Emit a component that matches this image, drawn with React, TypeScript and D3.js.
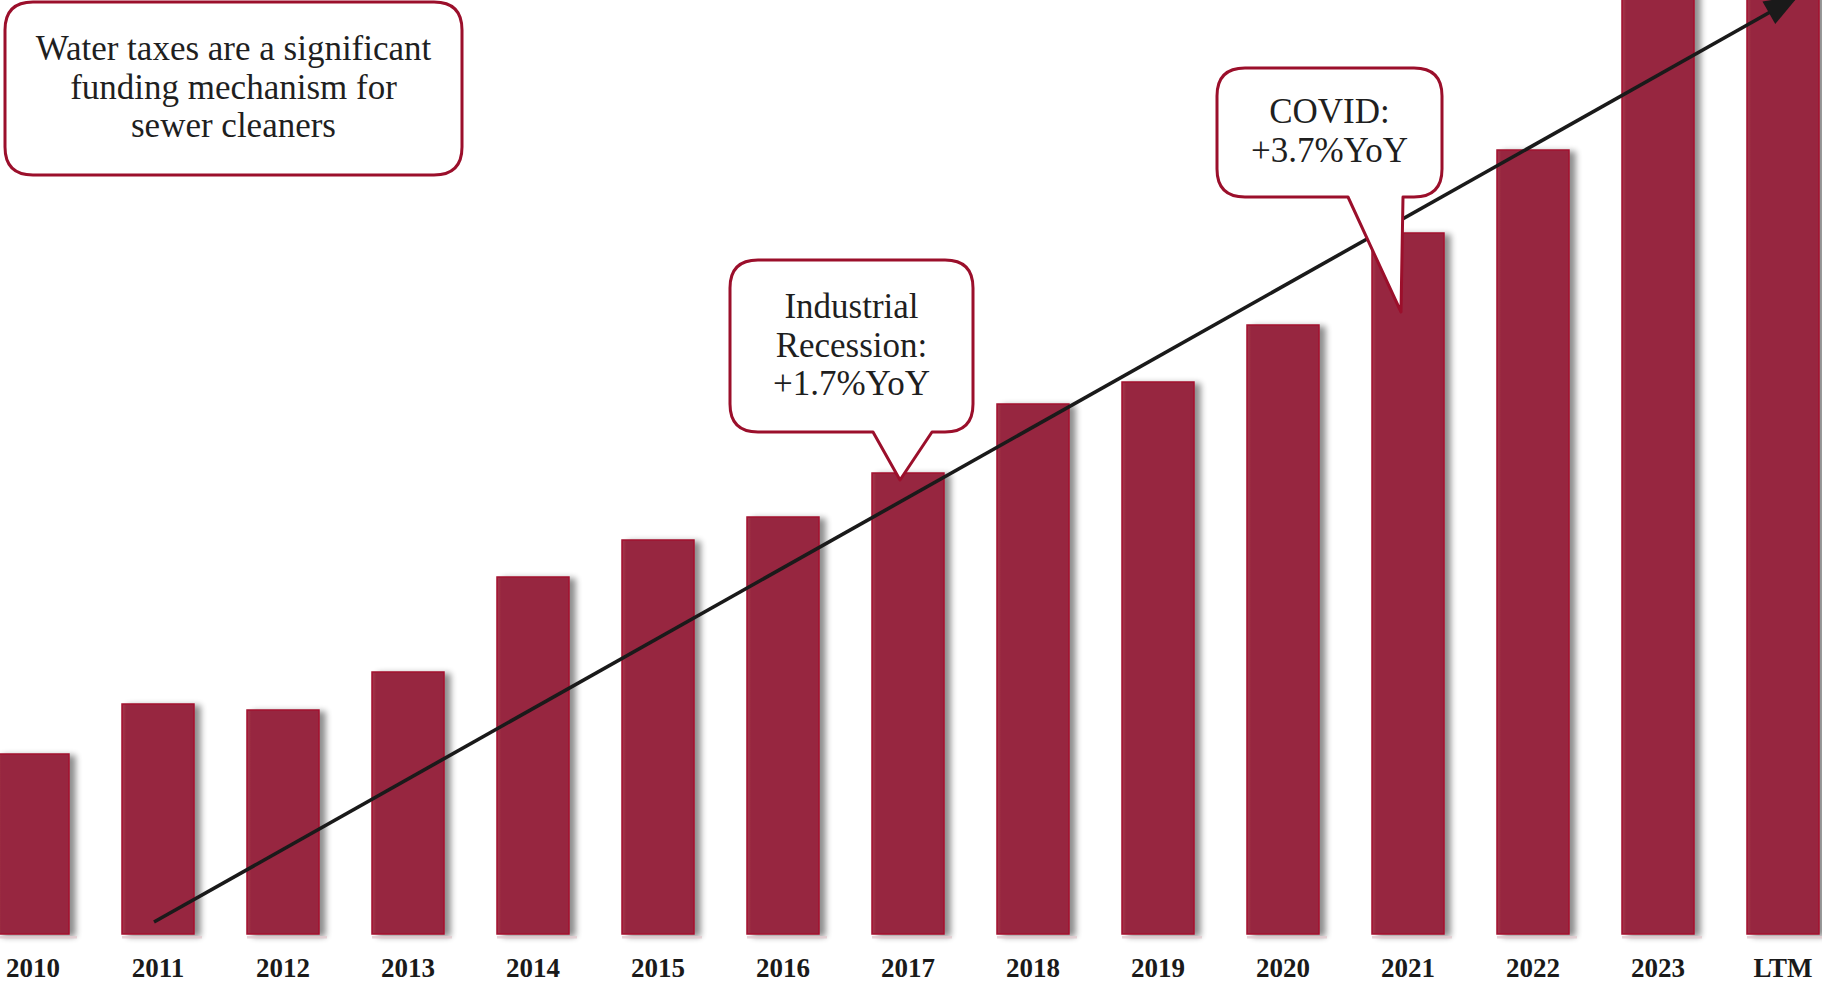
import React from "react";
import * as d3 from "d3";

const categories = ["2010","2011","2012","2013","2014","2015","2016","2017","2018","2019","2020","2021","2022","2023","LTM"];
const values = [18.0, 23.0, 22.4, 26.2, 35.7, 39.4, 41.7, 46.1, 53.0, 55.2, 60.9, 70.1, 78.4, 96.0, 100.0];
const trendStart = { cat: "2011", value: 1.2 };
const trendEnd = { x: 1795, value: 93.6 };

const W = 1822, H = 983;
const BAR = "#97283F";
const EDGE = "#A3102F";
const CALLOUT = "#9B0F2B";
const FONT = "'Liberation Serif', 'Times New Roman', serif";

export default function App() {
  const x = d3.scaleBand<string>().domain(categories).range([-3, 1820]).paddingInner(0.416).paddingOuter(0);
  const y = d3.scaleLinear().domain([0, 100]).range([934, -66]);
  const bw = x.bandwidth() - 1;

  const tx0 = (x(trendStart.cat) as number) + bw / 2 - 4;
  const ty0 = y(trendStart.value);
  const ty1 = y(trendEnd.value);

  const line = d3.line()([[tx0, ty0], [trendEnd.x, ty1]]) as string;

  const callouts = [
    { lines: ["Water taxes are a significant", "funding mechanism for", "sewer cleaners"], x0: 5, y0: 2, x1: 462, y1: 175, firstBase: 60, pointer: null as null | number[][] },
    { lines: ["Industrial", "Recession:", "+1.7%YoY"], x0: 730, y0: 260, x1: 973, y1: 432, firstBase: 318, pointer: [[873, 432], [900, 480], [932, 432]] },
    { lines: ["COVID:", "+3.7%YoY"], x0: 1217, y0: 68, x1: 1442, y1: 197, firstBase: 123, pointer: [[1348, 197], [1401, 312], [1403, 197]] },
  ];

  const calloutPath = (c: any) => {
    const r = 28;
    const { x0, y0, x1, y1 } = c;
    let p = `M${x0 + r},${y0} H${x1 - r} Q${x1},${y0} ${x1},${y0 + r} V${y1 - r} Q${x1},${y1} ${x1 - r},${y1}`;
    if (c.pointer) {
      const [a, t, b] = c.pointer;
      p += ` H${b[0]} L${t[0]},${t[1]} L${a[0]},${a[1]}`;
    }
    p += ` H${x0 + r} Q${x0},${y1} ${x0},${y1 - r} V${y0 + r} Q${x0},${y0} ${x0 + r},${y0} Z`;
    return p;
  };

  return (
    <svg width={W} height={H} style={{ position: "absolute", left: 0, top: 0, background: "#fff" }}>
      <defs>
        <filter id="shadow" x="-20%" y="-5%" width="150%" height="115%">
          <feGaussianBlur in="SourceAlpha" stdDeviation="3" />
          <feOffset dx="6" dy="2" result="ob" />
          <feComponentTransfer><feFuncA type="linear" slope="0.45" /></feComponentTransfer>
          <feMerge><feMergeNode /><feMergeNode in="SourceGraphic" /></feMerge>
        </filter>
        <linearGradient id="barGrad" x1="0" x2="1" y1="0" y2="0">
          <stop offset="0" stopColor="#A5364C" />
          <stop offset="0.06" stopColor={BAR} />
          <stop offset="1" stopColor={BAR} />
        </linearGradient>
      </defs>

      {categories.map((c, i) => {
        const bx = x(c) as number;
        const by = y(values[i]);
        return (
          <g key={c}>
            <rect x={bx} y={by} width={bw} height={934 - by} fill="url(#barGrad)" stroke={EDGE} strokeWidth={1.5} filter="url(#shadow)" />
            <rect x={bx} y={936} width={bw + 8} height={2.5} fill="#E2C9CE" opacity={0.8} />
            <text x={bx + bw / 2} y={977} textAnchor="middle" fontFamily={FONT} fontWeight="bold" fontSize={27} fill="#1a1a1a">{c}</text>
          </g>
        );
      })}

      <path d={line} stroke="#1a1a1a" strokeWidth={3.6} fill="none" />
      {(() => {
        const ang = Math.atan2(ty1 - ty0, trendEnd.x - tx0);
        const L = 30, Wd = 13;
        const bxp = trendEnd.x - L * Math.cos(ang), byp = ty1 - L * Math.sin(ang);
        const nx = -Math.sin(ang), ny = Math.cos(ang);
        const pts = [[trendEnd.x + 4 * Math.cos(ang), ty1 + 4 * Math.sin(ang)], [bxp + Wd * nx, byp + Wd * ny], [bxp - Wd * nx, byp - Wd * ny]];
        return <polygon points={pts.map(p => p.join(",")).join(" ")} fill="#1a1a1a" />;
      })()}

      {callouts.map((c, i) => (
        <g key={i}>
          <path d={calloutPath(c)} fill="#fff" stroke={CALLOUT} strokeWidth={3} strokeLinejoin="round" />
          {c.lines.map((t, j) => (
            <text key={j} x={(c.x0 + c.x1) / 2} y={c.firstBase + j * 38.5} textAnchor="middle" fontFamily={FONT} fontSize={35} fill="#1f1f1f">{t}</text>
          ))}
        </g>
      ))}
    </svg>
  );
}
